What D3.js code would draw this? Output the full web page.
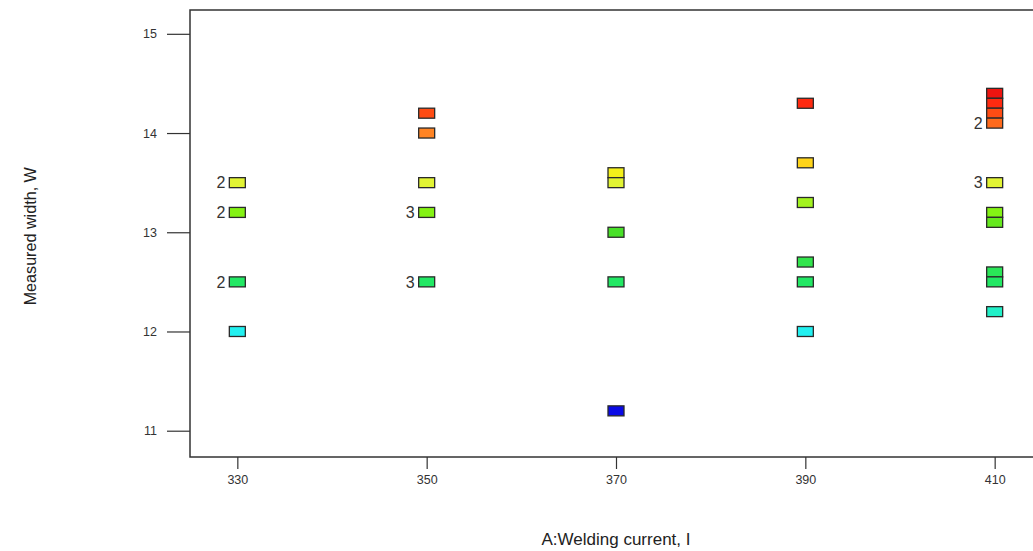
<!DOCTYPE html>
<html>
<head>
<meta charset="utf-8">
<script src="https://cdn.jsdelivr.net/npm/d3@7"></script>
<style>
  body { margin: 0; background: #fff; }
  svg { display: block; }
</style>
</head>
<body>
<div class="viz"></div>
<script>
const width = 1033;
const height = 551;

// points: welding current, measured width, number of runs at that spot
const current = [330, 330, 330, 330,
                 350, 350, 350, 350, 350,
                 370, 370, 370, 370, 370,
                 390, 390, 390, 390, 390, 390,
                 410, 410, 410, 410, 410, 410, 410, 410, 410, 410];
const widthW  = [13.5, 13.2, 12.5, 12.0,
                 14.2, 14.0, 13.5, 13.2, 12.5,
                 13.6, 13.5, 13.0, 12.5, 11.2,
                 14.3, 13.7, 13.3, 12.7, 12.5, 12.0,
                 14.4, 14.3, 14.2, 14.1, 13.5, 13.2, 13.1, 12.6, 12.5, 12.2];
const runs    = [2, 2, 2, 1,
                 1, 1, 1, 3, 3,
                 1, 1, 1, 1, 1,
                 1, 1, 1, 1, 1, 1,
                 1, 1, 1, 2, 3, 1, 1, 1, 1, 1];

const xTicks = [330, 350, 370, 390, 410];
const yTicks = [11, 12, 13, 14, 15];

// colour ramp used for the squares (low = blue, high = red)
const rampStops  = [11.2, 12.0, 12.2, 12.5, 13.0, 13.2, 13.5, 13.6, 13.7, 14.0, 14.1, 14.2, 14.3, 14.4];
const rampColors = ["#0a0ae6", "#22f0f0", "#22f0c8", "#22e864", "#48e028", "#84f214", "#e2f434",
                    "#f4f01a", "#ffd41a", "#ff8424", "#ff6a1c", "#ff4c14", "#ff2a10", "#ee1410"];

const margin = { left: 190, top: 10, bottom: 94 };

const svg = d3.select(".viz")
    .append("svg")
    .attr("width", width)
    .attr("height", height);

const x = d3.scaleLinear()
    .domain([325, 415])
    .range([margin.left, margin.left + 852]);

const y = d3.scaleLinear()
    .domain([10.735, 15.24])
    .range([height - margin.bottom, margin.top]);

const color = d3.scaleLinear()
    .domain(rampStops)
    .range(rampColors);

// frame
svg.append("rect")
    .attr("x", x(325))
    .attr("y", y(15.24))
    .attr("width", x(415) - x(325))
    .attr("height", y(10.735) - y(15.24))
    .style("fill", "none")
    .style("stroke", "#333")
    .style("stroke-width", 1.5);

// axes
const yAxis = svg.append("g")
    .attr("transform", `translate(${x(325)},0)`)
    .call(d3.axisLeft(y).tickValues(yTicks).tickFormat(d3.format("d")).tickSize(23).tickPadding(10));
const xAxis = svg.append("g")
    .attr("transform", `translate(0,${y(10.735)})`)
    .call(d3.axisBottom(x).tickValues(xTicks).tickSize(12).tickPadding(6));

[yAxis, xAxis].forEach(g => {
    g.select(".domain").remove();
    g.selectAll("line").style("stroke", "#333").style("stroke-width", 1.2);
    g.selectAll("text")
        .style("font-family", "Arial, 'Liberation Sans', sans-serif")
        .style("font-size", "12.5px")
        .style("fill", "#333");
});

// squares
const pts = current.map((c, i) => ({ c: c, w: widthW[i], n: runs[i] }));
const boxW = 16, boxH = 10;

svg.selectAll(".pt")
    .data(pts)
    .enter()
    .append("rect")
    .attr("class", "pt")
    .attr("x", d => x(d.c) - boxW / 2)
    .attr("y", d => y(d.w) - boxH / 2)
    .attr("width", boxW)
    .attr("height", boxH)
    .style("fill", d => color(d.w))
    .style("stroke", "#2a2a2a")
    .style("stroke-width", 1.3);

// run counts next to repeated points
svg.selectAll(".cnt")
    .data(pts.filter(d => d.n > 1))
    .enter()
    .append("text")
    .attr("class", "cnt")
    .attr("x", d => x(d.c) - boxW / 2 - 4)
    .attr("y", d => y(d.w))
    .attr("dy", "0.36em")
    .attr("text-anchor", "end")
    .text(d => d.n)
    .style("font-family", "Arial, 'Liberation Sans', sans-serif")
    .style("font-size", "16px")
    .style("fill", "#333");

// axis titles
svg.append("text")
    .attr("x", x(370))
    .attr("y", 545)
    .attr("text-anchor", "middle")
    .text("A:Welding current, I")
    .style("font-family", "Arial, 'Liberation Sans', sans-serif")
    .style("font-size", "17px")
    .style("fill", "#222");

svg.append("text")
    .attr("transform", `translate(36,${y(13) + 4}) rotate(-90) scale(0.95,1)`)
    .attr("text-anchor", "middle")
    .text("Measured width, W")
    .style("font-family", "Arial, 'Liberation Sans', sans-serif")
    .style("font-size", "17px")
    .style("fill", "#222");
</script>
</body>
</html>
